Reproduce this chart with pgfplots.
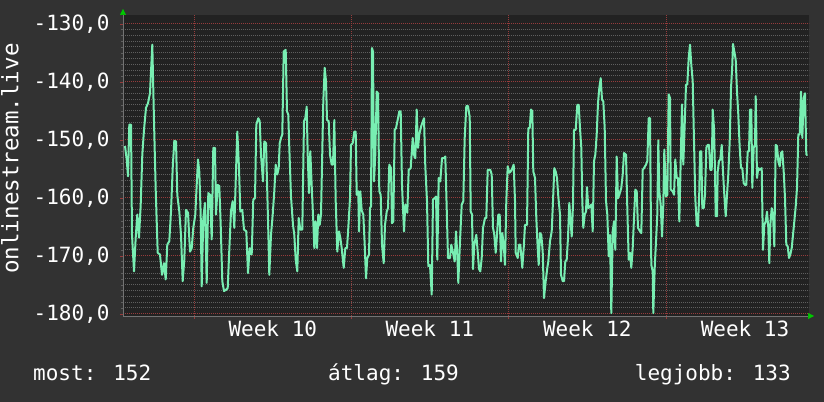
\documentclass[border=0pt]{standalone}
\usepackage{fontspec}
\setmainfont{DejaVu Sans Mono}
\usepackage{pgfplots}
\pgfplotsset{compat=1.18}
\usetikzlibrary{arrows.meta}
\definecolor{outerbg}{RGB}{50,50,50}
\definecolor{plotbg}{RGB}{34,34,34}
\definecolor{mingrid}{RGB}{95,95,95}
\definecolor{majgrid}{RGB}{150,60,60}
\definecolor{sig}{RGB}{120,238,178}
\definecolor{arrowgreen}{RGB}{0,200,0}
\newcommand\rfont{\fontsize{21bp}{25bp}\selectfont}

\begin{document}
\begin{tikzpicture}
\fill[outerbg] (0,0) rectangle (824bp,402bp);
\useasboundingbox (0,0) rectangle (824bp,402bp);
\begin{axis}[
    at={(123bp,86bp)}, anchor=south west,
    width=686bp, height=301bp, scale only axis,
    xmin=123, xmax=809,
    ymin=-180.4, ymax=-128.5,
    axis background/.style={fill=plotbg},
    axis lines=left,
    axis line style={draw=black!55, line width=0.6bp},
    x axis line style={shorten >=-5bp, -{Triangle[color=arrowgreen,length=6bp,width=6bp]}},
    y axis line style={shorten >=-6bp, -{Triangle[color=arrowgreen,length=6bp,width=6bp]}},
    xtick={194.3,351.3,508.3,666.3},
    xticklabels={,,,},
    minor x tick num=6,
    extra x ticks={272.8,429.8,587.3,745},
    extra x tick labels={Week 10,Week 11,Week 12,Week 13},
    extra x tick style={grid=none, major tick length=0pt},
    ytick={-180,-170,-160,-150,-140,-130},
    yticklabels={{-180,0},{-170,0},{-160,0},{-150,0},{-140,0},{-130,0}},
    minor y tick num=9,
    grid=both,
    major grid style={draw=majgrid, line width=1bp, dash pattern=on 1bp off 1bp},
    minor grid style={draw=mingrid, line width=0.8bp, dash pattern=on 1bp off 1bp},
    tick align=outside,
    major tick length=3bp, minor tick length=2bp,
    major tick style={draw=majgrid},
    minor tick style={draw=mingrid},
    tick label style={font=\rfont, text=white},
    yticklabel style={xshift=-7bp},
    xticklabel style={yshift=-1.5bp},
    clip=true,
]
\addplot[sig, line width=2bp, line join=round] coordinates {
(125.0,-151.1) (126.7,-153.4) (128.0,-156.3) (129.3,-147.4) (131.0,-147.4) (132.0,-166.4) (134.0,-172.7) (135.7,-166.9) (137.3,-162.9) (139.0,-166.9) (140.7,-161.2) (142.3,-152.6) (144.0,-148.3) (146.0,-144.5) (148.0,-143.7) (150.0,-142.0) (152.3,-133.6) (154.0,-146.8) (155.7,-158.6) (157.7,-169.5) (160.0,-169.8) (162.0,-173.3) (164.0,-171.3) (165.7,-174.1) (167.3,-168.1) (169.3,-167.5) (171.0,-162.4) (172.7,-154.9) (174.3,-150.2) (176.0,-150.3) (177.3,-159.5) (179.3,-162.4) (181.0,-166.4) (182.7,-174.4) (184.3,-170.7) (186.0,-162.1) (188.0,-162.6) (190.0,-169.3) (191.7,-168.7) (193.3,-165.2) (195.3,-162.9) (196.7,-157.8) (198.0,-153.4) (199.3,-155.5) (200.7,-162.9) (201.7,-175.3) (203.3,-163.5) (205.0,-160.9) (206.7,-174.7) (208.3,-159.2) (210.0,-159.5) (211.7,-167.2) (213.3,-151.4) (215.0,-151.4) (216.0,-162.9) (217.7,-157.8) (219.3,-158.0) (220.7,-164.7) (222.3,-174.4) (224.0,-176.1) (226.0,-175.9) (227.7,-175.6) (229.3,-169.0) (231.0,-162.3) (232.7,-160.6) (234.3,-165.2) (236.0,-155.5) (237.3,-148.6)
(239.0,-154.9) (240.3,-162.4) (242.3,-162.1) (244.0,-165.5) (246.3,-165.8) (248.0,-173.0) (249.7,-168.7) (251.7,-169.8) (253.3,-160.3) (255.0,-160.1) (256.3,-147.4) (258.3,-146.3) (259.7,-146.8) (261.0,-152.6) (263.0,-157.2) (264.3,-150.3) (266.0,-150.6) (267.0,-157.2) (268.3,-165.8) (269.3,-173.3) (271.0,-166.4) (272.7,-162.9) (274.3,-158.9) (275.7,-154.3) (277.3,-156.0) (278.7,-154.9) (279.7,-150.6) (281.0,-149.7) (282.3,-149.1) (283.7,-134.8) (285.7,-134.5) (287.0,-145.1) (288.3,-145.7) (289.3,-151.4) (291.0,-159.8) (293.0,-164.7) (294.3,-166.4) (295.7,-170.7) (297.3,-172.7) (298.7,-163.5) (300.3,-165.5) (302.3,-165.5) (304.0,-146.8) (305.3,-146.3) (306.7,-144.3) (307.7,-152.6) (309.0,-159.2) (310.3,-152.0) (312.0,-159.2) (313.3,-164.1) (314.3,-168.7) (315.7,-164.1) (317.0,-168.7) (318.3,-162.9) (319.7,-164.7) (321.0,-162.9) (322.3,-152.0) (323.3,-143.4) (324.7,-137.6) (326.0,-139.9) (327.0,-146.6) (328.7,-146.8) (330.0,-152.6) (331.7,-154.3) (333.0,-154.3) (334.3,-146.6) (335.7,-160.6) (337.3,-169.3) (339.0,-165.8) (340.3,-166.9) (341.7,-168.7) (343.7,-172.1) (345.3,-168.7) (347.0,-168.7) (348.3,-165.2) (350.0,-160.1) (351.0,-150.9) (352.7,-150.6) (354.3,-148.6)
(355.7,-148.6) (356.7,-159.5) (358.3,-158.9) (359.0,-165.8) (360.3,-158.9) (361.7,-162.2) (363.3,-162.9) (364.7,-168.1) (366.0,-173.9) (367.3,-170.4) (369.0,-169.8) (370.0,-161.8) (371.0,-161.5) (372.0,-134.2) (373.0,-134.8) (374.0,-157.2) (375.3,-152.6) (376.7,-141.7) (378.0,-142.0) (379.3,-158.9) (380.7,-159.5) (382.0,-168.1) (383.7,-171.3) (385.0,-164.7) (386.7,-162.4) (388.0,-161.8) (389.3,-154.3) (391.0,-154.9) (392.0,-164.4) (393.3,-164.1) (394.7,-148.3) (396.0,-148.0) (398.0,-146.3) (399.3,-145.1) (400.7,-145.1) (402.0,-157.8) (404.0,-165.8) (405.3,-161.2) (407.3,-162.6) (408.7,-155.2) (410.7,-154.9) (412.7,-149.7) (414.0,-152.6) (415.3,-153.2) (416.7,-144.8) (418.0,-151.4) (419.3,-149.1) (421.3,-147.6) (424.0,-146.3) (425.3,-154.6) (427.0,-160.6) (428.3,-171.8) (430.0,-171.6) (431.7,-176.7) (433.0,-160.3) (434.7,-160.1) (436.0,-159.8) (437.3,-170.7) (438.7,-156.6) (440.3,-157.2) (442.0,-153.2) (444.0,-153.2) (445.3,-152.9) (446.7,-161.8) (448.0,-170.4) (450.0,-170.4) (451.3,-168.1) (453.0,-169.5) (454.7,-171.0) (456.0,-165.8) (457.3,-169.8) (458.3,-174.7) (460.0,-167.5) (461.7,-161.2) (463.3,-160.6) (464.7,-149.7) (466.3,-144.2) (468.0,-144.2) (469.3,-145.7)
(469.7,-146.0) (470.7,-162.4) (472.0,-162.9) (473.0,-172.3) (474.3,-168.1) (476.3,-166.4) (477.7,-169.3) (479.0,-172.3) (480.3,-172.7) (481.7,-170.4) (483.0,-165.2) (485.0,-163.5) (486.3,-163.5) (487.7,-155.2) (490.3,-155.2) (491.7,-156.0) (493.0,-165.2) (494.3,-166.4) (495.7,-169.5) (497.0,-166.4) (498.3,-162.9) (499.7,-162.9) (501.0,-171.0) (502.3,-166.1) (503.7,-168.1) (505.0,-171.6) (506.3,-160.6) (507.7,-154.6) (509.3,-155.7) (510.7,-155.5) (512.3,-154.9) (513.7,-154.3) (515.0,-160.6) (515.7,-169.5) (517.7,-170.4) (519.0,-168.1) (520.3,-168.1) (522.3,-172.1) (523.7,-168.7) (525.0,-164.7) (527.0,-164.7) (528.3,-148.0) (529.7,-148.0) (531.0,-144.8) (532.3,-145.1) (533.3,-155.5) (535.0,-156.6) (536.3,-163.5) (537.7,-168.7) (538.7,-171.6) (540.0,-166.1) (541.3,-166.4) (542.7,-169.3) (544.0,-177.3) (545.7,-174.4) (547.3,-172.1) (548.3,-171.0) (550.0,-167.5) (551.7,-165.8) (553.0,-160.6) (554.3,-154.9) (555.7,-155.5) (557.0,-156.6) (558.3,-159.8) (560.0,-162.9) (561.0,-173.3) (562.7,-174.4) (564.0,-174.4) (565.3,-171.0) (566.7,-170.7) (568.0,-166.9) (569.3,-160.9) (570.7,-164.4) (571.7,-166.7) (573.0,-161.2) (574.0,-148.3) (575.7,-148.3) (577.3,-144.0) (578.7,-144.0) (580.0,-148.0) (581.3,-151.4) (582.3,-160.6) (583.3,-165.2)
(584.7,-162.9) (586.0,-162.4) (587.0,-158.2) (588.3,-161.8) (590.0,-161.5) (591.3,-161.2) (592.7,-165.8) (594.0,-153.7) (595.3,-152.6) (596.7,-149.1) (598.0,-143.7) (599.3,-141.1) (600.7,-139.4) (602.0,-143.1) (603.3,-143.4) (604.7,-148.0) (606.0,-160.6) (607.3,-162.9) (608.7,-170.1) (610.0,-166.4) (611.3,-179.9) (612.7,-165.8) (614.0,-164.1) (615.3,-169.0) (616.7,-152.9) (618.0,-160.1) (619.3,-159.5) (621.3,-158.3) (622.7,-156.0) (624.0,-152.3) (626.0,-152.6) (627.3,-161.8) (628.7,-170.7) (630.0,-169.5) (631.3,-172.1) (632.7,-168.7) (634.0,-163.5) (635.3,-158.6) (636.7,-158.9) (638.0,-165.2) (640.0,-165.8) (641.3,-166.1) (642.7,-155.2) (644.0,-154.9) (646.0,-154.3) (647.3,-153.7) (648.7,-146.3) (650.0,-146.3) (651.3,-171.6) (652.7,-172.7) (653.3,-179.9) (654.7,-172.1) (656.0,-167.5) (657.3,-162.9) (658.3,-150.1) (659.3,-158.9) (660.7,-161.2) (662.0,-166.7) (663.3,-161.2) (664.3,-151.7) (666.0,-159.8) (667.3,-159.5) (668.7,-142.2) (670.0,-142.8) (670.7,-158.6) (672.7,-158.9) (674.0,-159.5) (675.3,-153.4) (676.7,-156.6) (678.0,-156.6) (679.3,-164.1) (680.7,-153.7) (682.0,-143.9) (683.3,-154.3) (684.7,-147.4) (686.0,-140.5) (687.3,-140.5) (688.7,-135.9) (690.0,-133.6) (691.3,-137.1) (692.7,-139.9) (694.0,-150.3) (695.3,-160.1) (696.7,-164.7) (698.0,-164.9) (699.3,-158.9)
(700.0,-152.0) (701.3,-152.0) (702.3,-161.8) (703.7,-161.8) (705.0,-159.5) (706.3,-151.4) (707.7,-150.9) (709.0,-150.9) (710.3,-155.2) (711.7,-155.2) (712.7,-144.8) (714.0,-148.0) (715.0,-155.5) (715.7,-163.2) (717.0,-163.2) (717.7,-155.5) (719.0,-153.7) (720.3,-153.4) (721.7,-150.9) (723.0,-155.5) (724.3,-159.5) (725.7,-163.2) (727.0,-159.5) (728.3,-156.0) (729.7,-150.3) (731.0,-141.1) (732.3,-137.1) (733.0,-133.5) (734.3,-134.8) (735.7,-136.2) (737.0,-141.7) (738.3,-145.7) (739.7,-151.4) (741.0,-154.9) (742.3,-154.9) (743.7,-157.5) (745.0,-157.8) (746.3,-157.8) (747.7,-152.0) (749.0,-152.0) (750.0,-144.8) (751.3,-144.8) (752.3,-158.3) (753.7,-151.4) (755.0,-150.9) (755.7,-142.5) (757.0,-156.6) (758.3,-154.9) (759.7,-155.2) (761.7,-154.9) (763.0,-169.0) (764.3,-164.7) (765.7,-164.1) (767.0,-162.4) (768.3,-165.2) (769.3,-171.3) (770.3,-164.7) (771.7,-161.8) (773.0,-162.9) (774.3,-168.4) (775.7,-150.9) (777.0,-151.1) (778.3,-153.7) (779.7,-154.6) (781.0,-152.3) (782.3,-152.0) (783.7,-155.5) (785.0,-160.1) (786.3,-168.1) (787.7,-168.4) (789.0,-170.4) (790.3,-169.8) (791.7,-168.7) (793.0,-166.4) (794.3,-164.1) (795.7,-161.5) (797.0,-158.3) (798.3,-149.1) (799.7,-149.1) (801.0,-141.7) (802.3,-149.7) (803.7,-142.8) (805.0,-142.0) (806.3,-152.6) (807.7,-152.6)
};
\end{axis}
\node[rotate=90, anchor=base, text=white, font=\fontsize{22.5bp}{26bp}\selectfont, inner sep=0pt] at (18.3bp,243.5bp) {onlinestream.live};
\node[anchor=base west, text=white, font=\rfont, inner sep=0pt] at (33bp,21.3bp) {most: 152};
\node[anchor=base west, text=white, font=\rfont, inner sep=0pt] at (328bp,21.3bp) {átlag: 159};
\node[anchor=base east, text=white, font=\rfont, inner sep=0pt] at (791bp,21.3bp) {legjobb: 133};
\end{tikzpicture}
\end{document}
